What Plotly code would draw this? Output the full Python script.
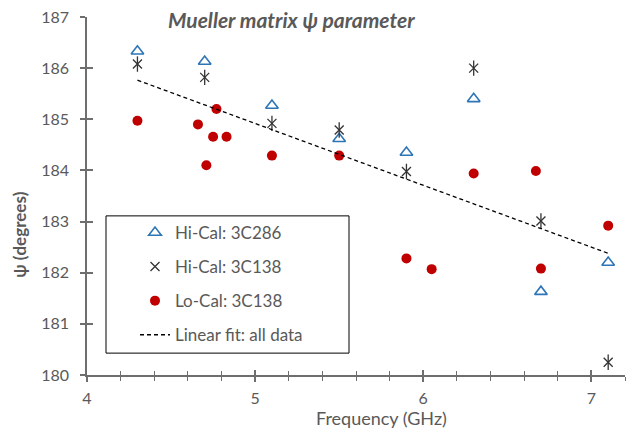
import numpy as np
import plotly.graph_objects as go

# ---- data ----
hi286_x = [4.3, 4.7, 5.1, 5.5, 5.9, 6.3, 6.7, 7.1]
hi286_y = [186.33, 186.13, 185.27, 184.62, 184.35, 185.40, 181.63, 182.20]

hi138_x = [4.3, 4.7, 5.1, 5.5, 5.9, 6.3, 6.7, 7.1]
hi138_y = [186.08, 185.82, 184.92, 184.79, 183.98, 186.00, 183.01, 180.25]

lo138_x = [4.30, 4.66, 4.71, 4.75, 4.77, 4.83, 5.10, 5.50, 5.90, 6.05, 6.30, 6.67, 6.70, 7.10]
lo138_y = [184.97, 184.90, 184.10, 184.66, 185.20, 184.66, 184.29, 184.29, 182.28, 182.07, 183.94, 183.99, 182.08, 182.92]

x_range = [4, 7.2]
y_range = [180, 187]
x_ticks = [4, 5, 6, 7]
y_ticks = [180, 181, 182, 183, 184, 185, 186, 187]

# linear fit over all data
all_x = np.array(hi286_x + hi138_x + lo138_x)
all_y = np.array(hi286_y + hi138_y + lo138_y)
slope, intercept = np.polyfit(all_x, all_y, 1)
fit_x = [min(all_x), max(all_x)]
fit_y = [slope * v + intercept for v in fit_x]

GRAY = "#595959"
AXIS = "#6e6e6e"
FONT = "Lato"

W, H = 632, 437
L, R, T, B = 87, 7, 15, 62
pw, ph = W - L - R, H - T - B

def px_x(p):
    return (p - L) / pw

def px_y(p):
    return (H - B - p) / ph

fig = go.Figure()

fig.add_trace(go.Scatter(
    x=hi286_x, y=hi286_y, mode="markers", name="Hi-Cal: 3C286",
    legendgroup="a",
    marker=dict(symbol="triangle-up-open", size=11, color="#2E75B6",
                line=dict(width=1.6, color="#2E75B6")),
))
fig.add_trace(go.Scatter(
    x=hi138_x, y=hi138_y, mode="markers", name="Hi-Cal: 3C138",
    legendgroup="b",
    marker=dict(symbol="x-thin-open", size=9, color="#333333",
                line=dict(width=1.3, color="#333333")),
))
fig.add_trace(go.Scatter(
    x=hi138_x, y=hi138_y, mode="markers", showlegend=False,
    legendgroup="b", hoverinfo="skip",
    marker=dict(symbol="line-ns-open", size=11, color="#333333",
                line=dict(width=1.3, color="#333333")),
))
fig.add_trace(go.Scatter(
    x=lo138_x, y=lo138_y, mode="markers", name="Lo-Cal: 3C138",
    legendgroup="c",
    marker=dict(symbol="circle", size=10, color="#C00000"),
))
fig.add_trace(go.Scatter(
    x=fit_x, y=fit_y, mode="lines", name="Linear fit: all data",
    legendgroup="d",
    line=dict(color="#000000", width=1.3, dash="4px,3px"),
))

# legend frame
fig.add_shape(type="rect", xref="paper", yref="paper",
              x0=px_x(106), x1=px_x(349), y0=px_y(353), y1=px_y(215),
              line=dict(color="#000000", width=1), fillcolor="white",
              layer="below")

fig.update_layout(
    width=W, height=H,
    margin=dict(l=L, r=R, t=T, b=B),
    paper_bgcolor="white", plot_bgcolor="white",
    font=dict(family=FONT, color=GRAY, size=16),
    showlegend=True,
    legend=dict(
        x=px_x(135), y=px_y(214), xanchor="left", yanchor="top",
        bgcolor="rgba(0,0,0,0)", borderwidth=0,
        font=dict(family=FONT, size=17, color=GRAY),
        tracegroupgap=9, traceorder="grouped",
    ),
    xaxis=dict(
        range=x_range, tickvals=x_ticks, showgrid=False, zeroline=False,
        showline=True, linecolor=AXIS, linewidth=1.5,
        ticks="outside", ticklen=5, tickwidth=1.5, tickcolor=AXIS,
        minor=dict(dtick=0.2, ticks="outside", ticklen=4, tickwidth=1.2, tickcolor=AXIS, showgrid=False),
        tickfont=dict(family=FONT, size=16, color=GRAY),
        ticklabelstandoff=3,
    ),
    yaxis=dict(
        range=y_range, tickvals=y_ticks, showgrid=False, zeroline=False,
        showline=True, linecolor=AXIS, linewidth=1.5,
        ticks="outside", ticklen=5, tickwidth=1.5, tickcolor=AXIS,
        tickfont=dict(family=FONT, size=16, color=GRAY),
        ticklabelstandoff=8,
    ),
    xaxis2=dict(
        range=x_range, tickvals=x_ticks, overlaying="x", anchor="y", side="bottom",
        showgrid=False, zeroline=False, showline=False, showticklabels=False,
        ticks="inside", ticklen=5, tickwidth=1.5, tickcolor=AXIS,
        minor=dict(dtick=0.2, ticks="inside", ticklen=4, tickwidth=1.2, tickcolor=AXIS, showgrid=False),
    ),
    yaxis2=dict(
        range=y_range, tickvals=y_ticks, overlaying="y", anchor="x", side="left",
        showgrid=False, zeroline=False, showline=False, showticklabels=False,
        ticks="inside", ticklen=6, tickwidth=1.5, tickcolor=AXIS,
    ),
)

# dummy trace to activate overlay axes
fig.add_trace(go.Scatter(x=[x_range[0]], y=[y_range[0]], xaxis="x2", yaxis="y2",
                         mode="markers", marker=dict(opacity=0), showlegend=False,
                         hoverinfo="skip"))

fig.add_annotation(text="<b><i>Mueller matrix ψ parameter</i></b>", xref="paper", yref="paper",
                   x=px_x(291), y=px_y(18), xanchor="center", yanchor="middle",
                   showarrow=False, font=dict(family=FONT, size=21, color=GRAY))
fig.add_annotation(text="Frequency (GHz)", xref="paper", yref="paper",
                   x=px_x(381), y=px_y(418), xanchor="center", yanchor="middle",
                   showarrow=False, font=dict(family=FONT, size=18, color=GRAY))
fig.add_annotation(text="<b>ψ (degrees)</b>", xref="paper", yref="paper",
                   x=px_x(20), y=px_y(234), xanchor="center", yanchor="middle",
                   textangle=-90, showarrow=False,
                   font=dict(family=FONT, size=17, color=GRAY))

fig.write_html("out.html")
